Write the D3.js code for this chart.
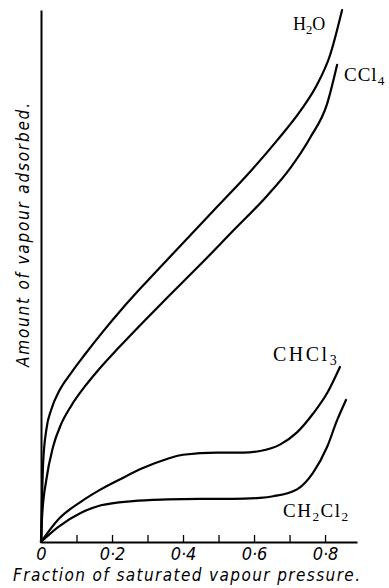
<!DOCTYPE html>
<html>
<head>
<meta charset="utf-8">
<script src="https://cdn.jsdelivr.net/npm/d3@7"></script>
<style>
  body { margin: 0; background: #fff; }
  svg { display: block; }
  .tick text { font-family: "DejaVu Sans Condensed", "DejaVu Sans", sans-serif; font-style: italic; }
</style>
</head>
<body>
<svg id="canvas" width="389" height="588"></svg>
<script>
// fraction of saturated vapour pressure vs amount adsorbed (arbitrary units 0-100)
let h2o = [[0, 0], [0.006, 14.8], [0.015, 21.1], [0.029, 24.9], [0.053, 28.6], [0.085, 31.8],
  [0.123, 35.2], [0.175, 39.6], [0.228, 43.8], [0.293, 48.6], [0.349, 52.6], [0.4, 56.2],
  [0.496, 63.0], [0.589, 69.6], [0.665, 75.5], [0.73, 81.0], [0.777, 85.9], [0.814, 91.5], [0.848, 100]];

let ccl4 = [[0, 0], [0.003, 4.7], [0.015, 11.7], [0.034, 17.9], [0.057, 22.2], [0.085, 25.6],
  [0.123, 29.2], [0.161, 32.3], [0.217, 36.4], [0.293, 41.7], [0.349, 45.5], [0.448, 52.1],
  [0.541, 58.5], [0.637, 65.1], [0.701, 70.2], [0.758, 76.0], [0.806, 82.4], [0.834, 89.7]];

let chcl3 = [[0, 0], [0.048, 4.2], [0.113, 7.6], [0.166, 9.8], [0.223, 11.8], [0.287, 13.9],
  [0.355, 15.6], [0.4, 16.4], [0.496, 16.8], [0.569, 16.8], [0.617, 17.1], [0.673, 18.3],
  [0.721, 20.6], [0.766, 24.1], [0.806, 28.0], [0.842, 32.9]];

let ch2cl2 = [[0, 0], [0.048, 2.8], [0.113, 5.5], [0.169, 6.9], [0.259, 7.7], [0.355, 8.0],
  [0.448, 8.1], [0.541, 8.1], [0.617, 8.3], [0.654, 8.6], [0.721, 9.9], [0.766, 13.0],
  [0.806, 17.9], [0.834, 22.9], [0.859, 26.7]];

let xTicks = [0, 0.1, 0.2, 0.3, 0.4, 0.5, 0.6, 0.7, 0.8];
let xTickLabels = ['0', '', '0·2', '', '0·4', '', '0·6', '', '0·8'];

let canvas = d3.select('#canvas');

let xScale = d3.scaleLinear().domain([0, 0.89]).range([41, 357]);
let yScale = d3.scaleLinear().domain([0, 100]).range([542, 10]);

let drawCanvas = () => {
    // axes
    let xAxis = d3.axisBottom(xScale)
                    .tickValues(xTicks)
                    .tickSizeInner(-7)
                    .tickSizeOuter(0)
                    .tickFormat((d, i) => xTickLabels[i]);

    let gx = canvas.append('g')
                    .attr('transform', 'translate(0,' + yScale(0) + ')')
                    .call(xAxis);
    gx.select('.domain').attr('stroke-width', 2);
    gx.selectAll('.tick line').attr('stroke-width', 1.3);
    gx.selectAll('.tick text')
        .attr('y', 18)
        .attr('dy', 0)
        .attr('font-size', 18);

    let yAxis = d3.axisLeft(yScale)
                    .tickValues([])
                    .tickSizeOuter(0);

    let gy = canvas.append('g')
                    .attr('transform', 'translate(' + xScale(0) + ',0)')
                    .call(yAxis);
    gy.select('.domain').attr('stroke-width', 2);

    // titles
    canvas.append('text')
        .text('Fraction of saturated vapour pressure.')
        .attr('x', 13)
        .attr('y', 581)
        .attr('textLength', 347)
        .attr('lengthAdjust', 'spacing')
        .attr('font-family', '"DejaVu Sans Condensed", "DejaVu Sans", sans-serif')
        .attr('font-style', 'italic')
        .attr('font-size', 17);

    canvas.append('text')
        .text('Amount of vapour adsorbed.')
        .attr('transform', 'translate(29,367) rotate(-90)')
        .attr('textLength', 264)
        .attr('lengthAdjust', 'spacing')
        .attr('font-family', '"DejaVu Sans Condensed", "DejaVu Sans", sans-serif')
        .attr('font-style', 'italic')
        .attr('font-size', 17);

    // curves
    let line = d3.line()
                .x((d) => xScale(d[0]))
                .y((d) => yScale(d[1]))
                .curve(d3.curveMonotoneX);

    canvas.selectAll('path.curve')
        .data([h2o, ccl4, chcl3, ch2cl2])
        .enter()
        .append('path')
        .attr('class', 'curve')
        .attr('d', line)
        .attr('fill', 'none')
        .attr('stroke', '#000')
        .attr('stroke-width', 2.2)
        .attr('stroke-linecap', 'round');

    // labels with subscripts
    let labels = [
        {parts: [['H', 0], ['2', 1], ['O', 0]], x: 293, y: 30, size: 18, sp: 0},
        {parts: [['CCl', 0], ['4', 1]], x: 344, y: 81, size: 19, sp: 1},
        {parts: [['CHCl', 0], ['3', 1]], x: 273, y: 361, size: 20, sp: 2.5},
        {parts: [['CH', 0], ['2', 1], ['Cl', 0], ['2', 1]], x: 283, y: 517, size: 19, sp: 1.5}
    ];

    labels.forEach((lab) => {
        let t = canvas.append('text')
                    .attr('x', lab.x)
                    .attr('y', lab.y)
                    .attr('font-family', '"Liberation Serif", "DejaVu Serif", serif')
                    .attr('font-size', lab.size)
                    .attr('letter-spacing', lab.sp);
        let shift = 0;
        lab.parts.forEach((p) => {
            let dy = p[1] ? 4 : 0;
            t.append('tspan')
                .text(p[0])
                .attr('dy', dy - shift)
                .attr('font-size', p[1] ? lab.size * 0.7 : lab.size);
            shift = dy;
        });
    });
};

drawCanvas();
</script>
</body>
</html>
